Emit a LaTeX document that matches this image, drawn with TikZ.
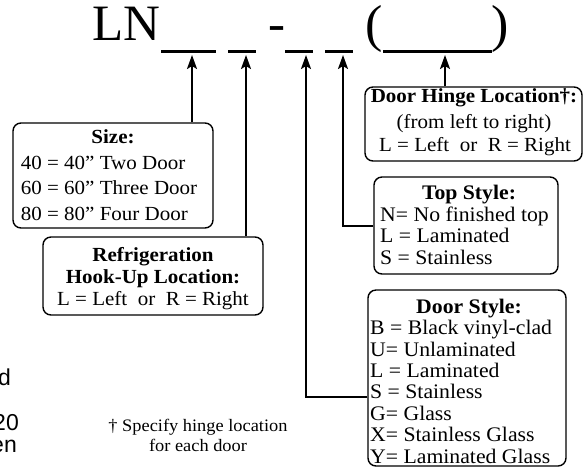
\documentclass[tikz,border=0pt]{standalone}
\usepackage{fontspec}
\setmainfont{Liberation Serif}[FakeStretch=1.05]
\newfontfamily\bigserif{Liberation Serif}
\newfontfamily\fragsans{Liberation Sans}
\usetikzlibrary{arrows.meta}
\newcommand{\dq}{\symbol{34}}
\tikzset{
  box/.style={draw, line width=1.4pt, rounded corners=8pt, inner sep=0pt},
  arr/.style={line width=2pt, -{Stealth[length=14pt,width=10pt,inset=3pt]}},
  ul/.style={line width=3pt},
  txt/.style={inner sep=0pt, font=\fontsize{20}{24}\selectfont},
  ttl/.style={inner sep=0pt, font=\fontsize{20}{24}\selectfont\bfseries},
  txtb/.style={inner sep=0pt, font=\fontsize{20.7}{24}\selectfont},
  ttlb/.style={inner sep=0pt, font=\fontsize{20.7}{24}\selectfont\bfseries},
  note/.style={inner sep=0pt, font=\fontsize{17.5}{20}\selectfont},
  frag/.style={inner sep=0pt, font=\fragsans\fontsize{23}{26}\selectfont},
  big/.style={inner sep=0pt, font=\bigserif\fontsize{51}{51}\selectfont},
  paren/.style={inner sep=0pt, font=\bigserif\fontsize{52}{52}\selectfont},
}
\begin{document}
\begin{tikzpicture}[x=1pt,y=-1pt]
\useasboundingbox (0,0) rectangle (585,467);
\fill[white] (0,0) rectangle (585,467);

% Title code
\node[big, anchor=base west] (ln) at (92,40) {LN};
\node[big, anchor=base] (dash) at (277,40) {-};
\node[paren, anchor=base] (lp) at (374.5,41) {(};
\node[paren, anchor=base] (rp) at (500.5,41) {)};
\draw[ul] (161,51) -- (216,51);
\draw[ul] (228,51) -- (256,51);
\draw[ul] (285,51) -- (313,51);
\draw[ul] (325,51) -- (353,51);
\draw[ul] (383,51) -- (492,51);

\coordinate (u1) at (192,55);
\coordinate (u2) at (246,55);
\coordinate (u3) at (306,55);
\coordinate (u4) at (343,55);
\coordinate (u5) at (445,55);
\coordinate (d3) at (0,397);

% Boxes
\node[box, minimum width=200pt, minimum height=105pt] (size) at (113,175.5) {};
\node[box, minimum width=220pt, minimum height=78pt] (ref) at (153,276) {};
\node[box, minimum width=217pt, minimum height=74pt] (hinge) at (473.5,124) {};
\node[box, minimum width=184pt, minimum height=97pt] (top) at (466,225.5) {};
\node[box, minimum width=198pt, minimum height=176pt] (door) at (467,378) {};

% Size
\node[ttl, anchor=base] (sizet) at (113,143.3) {Size:};
\node[txt, anchor=base west] (size1) at (20.7,169.3) {40 = 40\dq{} Two Door};
\node[txt, anchor=base west] (size2) at (20.7,194.8) {60 = 60\dq{} Three Door};
\node[txt, anchor=base west] (size3) at (20.7,220.3) {80 = 80\dq{} Four Door};

% Refrigeration
\node[ttl, anchor=base] (reft1) at (153,261.7) {Refrigeration};
\node[ttl, anchor=base] (reft2) at (153,283.3) {Hook-Up Location:};
\node[txt, anchor=base] (ref1) at (153,305) {L = Left\ \ or\ \ R = Right};

% Hinge
\node[ttl, anchor=base] (hinget) at (474,102.7) {Door Hinge Location†:};
\node[txt, anchor=base] (hinge1) at (474,128) {(from left to right)};
\node[txt, anchor=base] (hinge2) at (475,151.7) {L = Left\ \ or\ \ R = Right};

% Top style
\node[ttlb, anchor=base] (topt) at (469,199.3) {Top Style:};
\node[txtb, anchor=base west] (top1) at (380,221.7) {N= No finished top};
\node[txtb, anchor=base west] (top2) at (380,242.7) {L = Laminated};
\node[txtb, anchor=base west] (top3) at (380,264) {S = Stainless};

% Door style
\node[ttlb, anchor=base] (doort) at (469,313) {Door Style:};
\node[txtb, anchor=base west] (door1) at (370,334.7) {B = Black vinyl-clad};
\node[txtb, anchor=base west] (door2) at (370,356) {U= Unlaminated};
\node[txtb, anchor=base west] (door3) at (370,377.5) {L = Laminated};
\node[txtb, anchor=base west] (door4) at (370,398.9) {S = Stainless};
\node[txtb, anchor=base west] (door5) at (370,420.3) {G= Glass};
\node[txtb, anchor=base west] (door6) at (370,441.7) {X= Stainless Glass};
\node[txtb, anchor=base west] (door7) at (370,463) {Y= Laminated Glass};

% Footnote
\node[note, anchor=base] (fn1) at (198,431.7) {† Specify hinge location};
\node[note, anchor=base] (fn2) at (198,451.7) {for each door};

% Cut-off fragments at the left edge
\node[frag, anchor=base east] (fr1) at (11,385) {d};
\node[frag, anchor=base east] (fr2) at (19,430) {20};
\node[frag, anchor=base east] (fr3) at (17,452) {en};

% Connectors
\draw[arr] (size.north -| u1) -- (u1);
\draw[arr] (ref.north -| u2) -- (u2);
\draw[arr] (door.west |- d3) -| (u3);
\draw[arr] (top.west) -| (u4);
\draw[arr] (hinge.north -| u5) -- (u5);
\end{tikzpicture}
\end{document}
